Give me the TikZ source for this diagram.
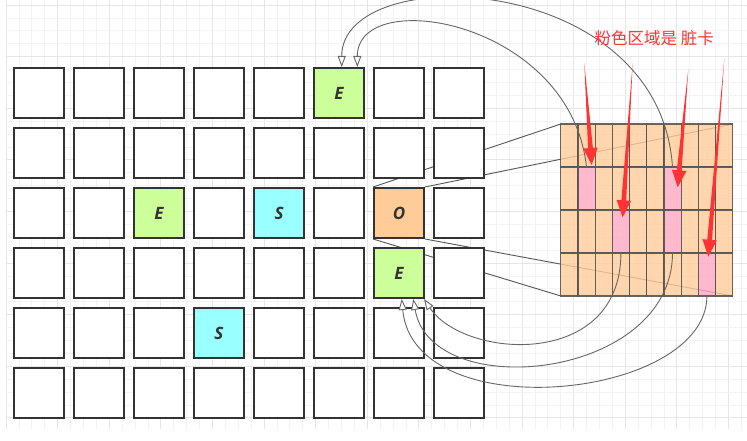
\documentclass[tikz,border=0pt]{standalone}
\usepackage{fontspec}
\newfontfamily\cjk{Noto Sans CJK SC}
\newfontfamily\lab{Open Sans}
\usetikzlibrary{arrows.meta,calc}
\definecolor{boxline}{HTML}{333333}
\definecolor{egreen}{HTML}{CCFF99}
\definecolor{scyan}{HTML}{99FFFF}
\definecolor{oorange}{HTML}{FFCC99}
\definecolor{cardfill}{HTML}{FFCC99}
\definecolor{dirty}{HTML}{FFA8C4}
\definecolor{cardline}{HTML}{555555}
\definecolor{connc}{HTML}{666666}
\definecolor{redarrow}{HTML}{FF3333}
\definecolor{gminor}{HTML}{F3F3F3}
\definecolor{gmajor}{HTML}{E6E6E6}
\pgfdeclarelayer{gridlayer}
\pgfdeclarelayer{under}
\pgfsetlayers{gridlayer,under,main}
\newcommand\dirtyarrow[2]{%
  \path (#2) coordinate (tipX) ($(#2)!17pt!(#1)$) coordinate (baseX);
  \fill[redarrow] (#1) -- ($(baseX)!2.4pt!90:(tipX)$) -- ($(baseX)!7.3pt!90:(tipX)$) -- (tipX)
    -- ($(baseX)!7.3pt!-90:(tipX)$) -- ($(baseX)!2.4pt!-90:(tipX)$) -- cycle;}
\begin{document}
\begin{tikzpicture}[x=1pt,y=-1pt,
  region/.style={draw=boxline, line width=1.8pt, fill=white, minimum size=50.2pt, inner sep=0pt,
    font=\lab\bfseries\itshape\fontsize{17}{17}\selectfont, text=boxline},
  card/.style={draw=cardline, line width=1.2pt, fill=cardfill, fill opacity=0.8, draw opacity=0.9,
    minimum width=17.2pt, minimum height=42.9pt, inner sep=0pt, outer sep=0pt},
  dirtycard/.style={card, fill=dirty},
  conn/.style={draw=connc, line width=0.9pt, -{Triangle[fill=white,length=11pt,width=8pt]}},
  zoomline/.style={draw=cardline, line width=0.9pt}]

\useasboundingbox (0,0) rectangle (747,441);

\begin{pgfonlayer}{gridlayer}
  \fill[white] (0,0) rectangle (747,441);
  \foreach \i in {0,...,57}{
    \pgfmathtruncatemacro\m{mod(\i,4)}
    \ifnum\m=0 \def\gc{gmajor}\else\def\gc{gminor}\fi
    \draw[\gc, line width=0.75pt] ({6+12.9*\i},0) -- ({6+12.9*\i},429);
  }
  \foreach \j in {0,...,32}{
    \pgfmathtruncatemacro\m{mod(\j,4)}
    \ifnum\m=0 \def\gc{gmajor}\else\def\gc{gminor}\fi
    \draw[\gc, line width=0.75pt] (6,{5+12.9*\j}) -- (747,{5+12.9*\j});
  }
\end{pgfonlayer}

% region grid
\foreach \r in {0,...,5}{\foreach \c in {0,...,7}{
  \pgfmathtruncatemacro\id{10*\r+\c}
  \ifnum\id=5 \else\ifnum\id=22 \else\ifnum\id=24 \else\ifnum\id=26 \else\ifnum\id=36 \else\ifnum\id=43 \else
    \node[region] (b\r\c) at ({39+60*\c},{93+60*\r}) {};
  \fi\fi\fi\fi\fi\fi
}}
\node[region, fill=egreen] (E1) at (339,93) {E};
\node[region, fill=egreen] (E2) at (159,213) {E};
\node[region, fill=scyan]  (S1) at (279,213) {S};
\node[region, fill=oorange] (O) at (399,213) {O};
\node[region, fill=egreen] (E3) at (399,273) {E};
\node[region, fill=scyan]  (S2) at (219,333) {S};

% card table
\foreach \r in {0,...,3}{\foreach \c in {0,...,9}{
  \pgfmathtruncatemacro\id{10*\r+\c}
  \def\st{card}
  \ifnum\id=11 \def\st{dirtycard}\fi
  \ifnum\id=23 \def\st{dirtycard}\fi
  \ifnum\id=16 \def\st{dirtycard}\fi
  \ifnum\id=26 \def\st{dirtycard}\fi
  \ifnum\id=38 \def\st{dirtycard}\fi
  \node[\st] (t\r\c) at ({569.3+17.2*\c},{145.5+43*\r}) {};
}}

% zoom lines from O to the card table
\begin{pgfonlayer}{under}
  \draw[zoomline] (O.north west) -- (t00.north west);
  \draw[zoomline] (O.north east) -- (t09.north east);
  \draw[zoomline] (O.south west) -- (t30.south west);
  \draw[zoomline] (O.south east) -- (t39.south east);
\end{pgfonlayer}

% references from dirty cards
\draw[conn] (t16.north) .. controls +(-13,-197) and +(0,-107) .. ([xshift=2.7pt]E1.north);
\draw[conn] (t11.north) .. controls +(-16,-147) and +(0,-82) .. ([xshift=18.3pt]E1.north);
\draw[conn] (t23.south) .. controls +(0,117) and +(40,60) .. ([xshift=25pt]E3.south);
\draw[conn] (t26.south) .. controls +(0,127) and +(18,105) .. ([xshift=14.3pt]E3.south);
\draw[conn] (t38.south) .. controls +(0,104) and +(12,130) .. ([xshift=2.7pt]E3.south);

% red pointer arrows
\coordinate (r1s) at (584.3,63);   \coordinate (r1t) at (591.7,165);
\coordinate (r2s) at (632.7,63);   \coordinate (r2t) at (622.7,217.3);
\coordinate (r3s) at (688.3,69.5); \coordinate (r3t) at (677.7,187.3);
\coordinate (r4s) at (724.3,59);   \coordinate (r4t) at (708.3,256.7);
\dirtyarrow{r1s}{r1t}
\dirtyarrow{r2s}{r2t}
\dirtyarrow{r3s}{r3t}
\dirtyarrow{r4s}{r4t}

\node[text=redarrow, font=\cjk\fontsize{16.5}{16.5}\selectfont, inner sep=0pt] (note) at (654.3,38.5) {粉色区域是 脏卡};
\end{tikzpicture}
\end{document}
